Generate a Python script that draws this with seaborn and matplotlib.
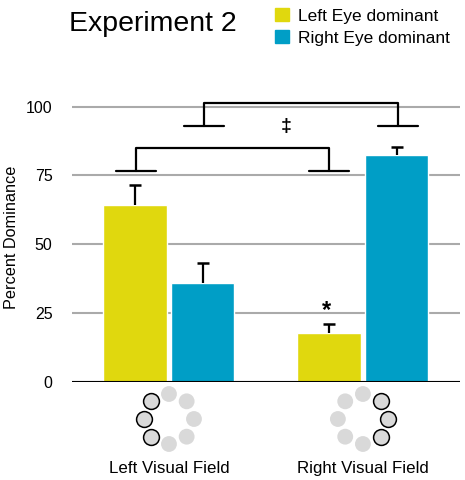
import numpy as np
import pandas as pd
import matplotlib
matplotlib.use("Agg")
import matplotlib.pyplot as plt
from matplotlib.patches import Patch
import seaborn as sns

# data
fields = ["Left Visual Field", "Right Visual Field"]
eyes = ["Left Eye dominant", "Right Eye dominant"]
left_eye_pct = [64.3, 17.7]
right_eye_pct = [35.9, 82.5]
left_eye_err = [7.2, 3.4]
right_eye_err = [7.2, 3.0]
yticks = [0, 25, 50, 75, 100]

colors = ["#e0d80e", "#009ec6"]

df = pd.DataFrame({
    "field": fields * 2,
    "eye": [eyes[0]] * 2 + [eyes[1]] * 2,
    "pct": left_eye_pct + right_eye_pct,
    "err": left_eye_err + right_eye_err,
})

sns.set_style("white")
plt.rcParams["font.family"] = ["Liberation Sans", "DejaVu Sans"]
for k in ["text.color", "axes.labelcolor", "xtick.color", "ytick.color"]:
    plt.rcParams[k] = "black"

fig = plt.figure(figsize=(4.65, 4.8), dpi=100)
ax = fig.add_axes([0.1548, 0.2052, 0.8342, 0.601])

sns.barplot(data=df, x="field", y="pct", hue="eye", palette=colors,
            saturation=1, width=0.7, gap=0.07, errorbar=None, legend=False,
            ax=ax, zorder=3)

# upward-only error bars
offs = [-0.175, 0.175]
cap = 0.03
for i, e in enumerate(eyes):
    sub = df[df["eye"] == e]
    xs = np.arange(len(fields)) + offs[i]
    tops = sub["pct"].values + sub["err"].values
    ax.vlines(xs, sub["pct"].values, tops, color="black", lw=1.6, zorder=4)
    ax.hlines(tops, xs - cap, xs + cap, color="black", lw=1.8, zorder=4)

ax.set_xlim(-0.5, 1.5)
ax.set_ylim(0, 105)
ax.set_yticks(yticks)
ax.yaxis.grid(True, color="#aaaaaa", lw=1.5)
ax.set_axisbelow(True)
ax.axhline(0, color="black", lw=1.5, zorder=5)
for s in ax.spines.values():
    s.set_visible(False)
ax.tick_params(axis="y", length=0, pad=14, labelsize=11.5)
ax.tick_params(axis="x", length=0, pad=57, labelsize=12.2)
ax.set_xlabel("")
ax.set_ylabel("Percent Dominance", fontsize=11.7, labelpad=5)

# significance brackets
def bracket(x1, x2, ytop, yfoot, hw=0.103):
    ax.plot([x1, x1, x2, x2], [yfoot, ytop, ytop, yfoot], color="black",
            lw=1.6, clip_on=False, zorder=6)
    for xc in (x1, x2):
        ax.plot([xc - hw, xc + hw], [yfoot, yfoot], color="black", lw=1.6,
                clip_on=False, zorder=6)

bracket(-0.171, 0.825, 84.9, 76.6)
bracket(0.18, 1.18, 101.3, 93.0)
ax.text(0.602, 92.7, "\u2021", ha="center", va="center", fontsize=14,
        fontweight="bold")
ax.text(0.812, 26.0, "*", ha="center", va="center", fontsize=17,
        fontweight="bold")

# visual field icons: ring of 8 circles under each group
rx, ry = 0.129, 9.1
yc = -13.65
outlined = [[135, 180, 225], [45, 0, 315]]
for g in range(2):
    for a in np.arange(0, 360, 45):
        r = np.deg2rad(a)
        edge = "black" if a in outlined[g] else "none"
        ax.scatter(g + rx * np.cos(r), yc + ry * np.sin(r), s=130,
                   color="#d9d9d9", edgecolors=edge, linewidths=1.1,
                   clip_on=False, zorder=6)

fig.text(0.148, 0.951, "Experiment 2", fontsize=20.5, ha="left", va="center")

handles = [Patch(color=c) for c in colors]
fig.legend(handles, eyes, loc="upper left", bbox_to_anchor=(0.585, 0.99),
           frameon=False, fontsize=12.5, handlelength=0.75, handleheight=0.75,
           handletextpad=0.55, labelspacing=0.37, borderaxespad=0,
           borderpad=0.2)

fig.savefig("out.png", dpi=100)
